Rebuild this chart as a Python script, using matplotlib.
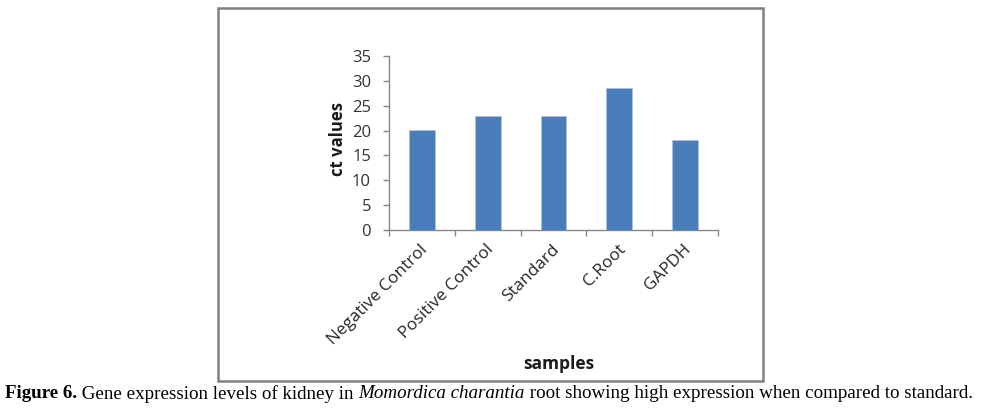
import matplotlib
matplotlib.use("Agg")
import matplotlib.pyplot as plt
from matplotlib.patches import Rectangle

categories = ["Negative Control", "Positive Control", "Standard", "C.Root", "GAPDH"]
ct_values = [20.1, 23.0, 22.9, 28.6, 18.1]
yticks = [0, 5, 10, 15, 20, 25, 30, 35]

W, H = 983, 409
fig = plt.figure(figsize=(W / 100, H / 100), dpi=100)
fig.patch.set_facecolor("white")

# outer chart border
fig.add_artist(Rectangle((218 / W, 1 - 381 / H), (763 - 218) / W, (381 - 8) / H,
                         transform=fig.transFigure, fill=False,
                         edgecolor="#808080", linewidth=1.8))

ax = fig.add_axes([389 / W, 1 - 230 / H, (718 - 389) / W, (230 - 56) / H])
x = list(range(len(categories)))
ax.bar(x, ct_values, width=0.39, color="#4a7ebb", edgecolor="#a9c1e0", linewidth=0.6, zorder=3)
ax.set_xlim(-0.5, len(categories) - 0.5)
ax.set_ylim(0, 35)
ax.set_yticks(yticks)
ax.set_yticklabels([str(v) for v in yticks])
ax.set_xticks([i - 0.5 for i in range(len(categories) + 1)], minor=False)
ax.set_xticklabels([""] * (len(categories) + 1))
for s in ["top", "right"]:
    ax.spines[s].set_visible(False)
for s in ["left", "bottom"]:
    ax.spines[s].set_color("#868686")
    ax.spines[s].set_linewidth(1.0)
ax.tick_params(axis="both", colors="#868686", length=4, width=1.0,
               labelcolor="#333333", labelsize=12)
ax.tick_params(axis="y", pad=9)
for lab in ax.get_yticklabels():
    lab.set_family("Open Sans")

for i, c in enumerate(categories):
    ax.text(i - 0.03, -2.3, c, rotation=45, ha="right", va="top",
            rotation_mode="anchor", fontsize=12.3, family="Open Sans",
            color="#262626")

fig.text(338 / W, 1 - 139 / H, "ct values", rotation=90, ha="center", va="center",
         fontsize=12, fontweight="bold", family="Open Sans", color="#1a1a1a")
fig.text(559 / W, 1 - 364 / H, "samples", ha="center", va="center",
         fontsize=12.5, fontweight="bold", family="Open Sans", color="#1a1a1a")

# caption with mixed styles
pieces = [("Figure 6.", "bold", "normal"),
          (" Gene expression levels of kidney in ", "normal", "normal"),
          ("Momordica charantia", "normal", "italic"),
          (" root showing high expression when compared to standard.", "normal", "normal")]
fs = 12.3
fig.canvas.draw()
r = fig.canvas.get_renderer()
texts = []
xpos = 5
for s, w, st in pieces:
    t = fig.text(xpos / W, 1 - 394 / H, s, ha="left", va="center", fontsize=fs,
                 family="Liberation Serif", fontweight=w, fontstyle=st, color="black")
    bb = t.get_window_extent(renderer=r)
    xpos += bb.width
    texts.append(t)
total = xpos - 5
scale = 973 / total
xpos = 5
for t in texts:
    t.set_fontsize(fs * scale)
    t.set_x(xpos / W)
    bb = t.get_window_extent(renderer=r)
    xpos += bb.width

fig.savefig("out.png", dpi=100, facecolor="white")
